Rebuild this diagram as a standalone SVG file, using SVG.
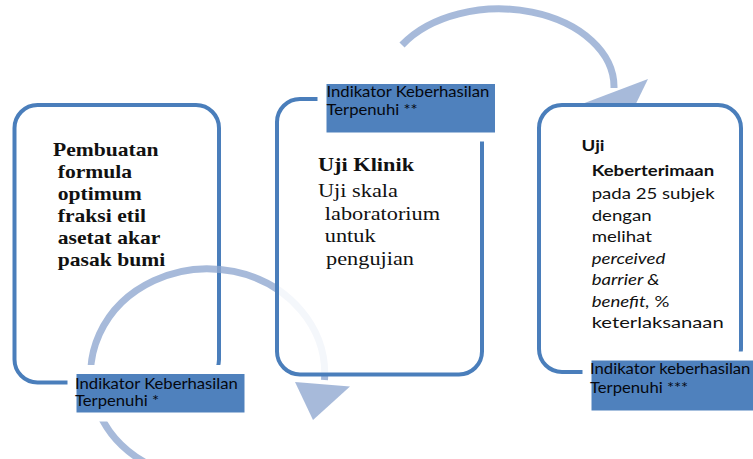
<svg xmlns="http://www.w3.org/2000/svg" width="753" height="459" viewBox="0 0 753 459">
  <defs>
    <style>
      .box { fill: #ffffff; stroke: #4a7ebb; stroke-width: 4; }
      .box-veil { fill: #ffffff; fill-opacity: 0.88; stroke: #4a7ebb; stroke-width: 4; }
      .arc { fill: none; stroke: #8ea6d0; stroke-opacity: 0.78; stroke-width: 7; }
      .head { fill: #8ea6d0; fill-opacity: 0.78; }
      .tag { fill: #4f81bd; stroke: #ffffff; stroke-width: 9; }
      .tag-text { font-family: Lato, "Open Sans", sans-serif; font-size: 14.5px; fill: #05080f; }
      .serif-b { font-family: "Liberation Serif", "Times New Roman", serif; font-size: 18px; font-weight: bold; fill: #111111; }
      .serif { font-family: "Liberation Serif", "Times New Roman", serif; font-size: 18px; fill: #111111; }
      .sans { font-family: Lato, "Open Sans", sans-serif; font-size: 15.5px; fill: #111111; }
      .sans-b { font-family: Lato, "Open Sans", sans-serif; font-size: 15.5px; font-weight: bold; fill: #111111; }
      .sans-i { font-family: Lato, "Open Sans", sans-serif; font-size: 15.5px; font-style: italic; fill: #111111; }
    </style>
  </defs>

  <!-- step 1 -->
  <g id="node-formula">
    <rect class="box" x="14.5" y="105" width="204.5" height="277.5" rx="23"/>
    <g transform="translate(53,0) scale(1.2,1)">
      <text class="serif-b" x="0" y="156">Pembuatan</text>
      <text class="serif-b" x="4" y="178">formula</text>
      <text class="serif-b" x="4" y="200">optimum</text>
      <text class="serif-b" x="4" y="222">fraksi etil</text>
      <text class="serif-b" x="4" y="244">asetat akar</text>
      <text class="serif-b" x="4" y="266">pasak bumi</text>
    </g>
  </g>

  <!-- cycle arrows -->
  <g id="connectors">
    <g id="arrow-1-2">
      <path class="arc" d="M146,463 A117,105 0 1 1 324.5,380"/>
      <polygon class="head" points="295,382 350,386.5 313,420"/>
    </g>
  </g>

  <!-- step 2 -->
  <g id="node-klinik">
    <rect class="box-veil" x="277" y="99" width="205" height="275.5" rx="23"/>
    <g transform="translate(318,0) scale(1.24,1)">
      <text class="serif-b" x="0" y="171.5">Uji Klinik</text>
      <text class="serif" x="0" y="197">Uji skala</text>
      <text class="serif" x="5.5" y="220">laboratorium</text>
      <text class="serif" x="5.5" y="242.5">untuk</text>
      <text class="serif" x="6.5" y="265">pengujian</text>
    </g>
  </g>

  <g id="arrow-2-3">
    <path class="arc" d="M402,45 A115,78 0 0 1 614,88"/>
    <polygon class="head" points="582,104 648,79 628,120"/>
  </g>

  <!-- step 3 -->
  <g id="node-keberterimaan">
    <rect class="box" x="539" y="105" width="202" height="267" rx="23"/>
    <g transform="translate(581.5,0) scale(1.2,1)">
      <text class="sans-b" x="0" y="151">Uji</text>
      <text class="sans-b" x="8.5" y="176" textLength="102" lengthAdjust="spacingAndGlyphs">Keberterimaan</text>
      <text class="sans" x="8.5" y="199">pada 25 subjek</text>
      <text class="sans" x="8.5" y="221">dengan</text>
      <text class="sans" x="8.5" y="242">melihat</text>
      <text class="sans-i" x="8.5" y="264">perceived</text>
      <text class="sans-i" x="8.5" y="285">barrier &amp;</text>
      <text class="sans" x="8.5" y="307"><tspan class="sans-i">benefit,</tspan> %</text>
      <text class="sans" x="8.5" y="328" textLength="110" lengthAdjust="spacingAndGlyphs">keterlaksanaan</text>
    </g>
  </g>

  <!-- success indicator tags -->
  <g id="tag-1">
    <rect class="tag" x="72" y="369.5" width="177" height="47.5" rx="3"/>
    <g transform="translate(75,0) scale(1.15,1)">
      <text class="tag-text" x="0" y="389">Indikator Keberhasilan</text>
      <text class="tag-text" x="0" y="406">Terpenuhi *</text>
    </g>
  </g>

  <g id="tag-2">
    <rect class="tag" x="322" y="79.5" width="177.5" height="57.5" rx="3"/>
    <g transform="translate(326.5,0) scale(1.15,1)">
      <text class="tag-text" x="0" y="97">Indikator Keberhasilan</text>
      <text class="tag-text" x="0" y="115">Terpenuhi **</text>
    </g>
  </g>

  <g id="tag-3">
    <rect class="tag" x="587" y="356" width="180" height="59" rx="3"/>
    <g transform="translate(590,0) scale(1.15,1)">
      <text class="tag-text" x="0" y="374">Indikator keberhasilan</text>
      <text class="tag-text" x="0" y="393">Terpenuhi  ***</text>
    </g>
  </g>
</svg>
